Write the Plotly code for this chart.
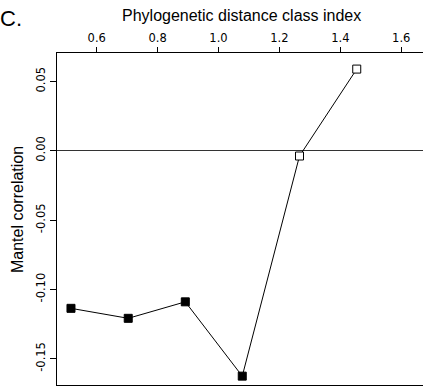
import plotly.graph_objects as go

x_vals = [0.5155, 0.7035, 0.891, 1.078, 1.266, 1.454]
mantel_r = [-0.1137, -0.1209, -0.1090, -0.1626, -0.0038, 0.0589]
significant = [True, True, True, True, False, False]

x_ticks = [0.6, 0.8, 1.0, 1.2, 1.4, 1.6]
x_ticktext = ["0.6", "0.8", "1.0", "1.2", "1.4", "1.6"]
y_ticks = [-0.15, -0.10, -0.05, 0.0, 0.05]
y_ticktext = ["-0.15", "-0.10", "-0.05", "0.00", "0.05"]

W, H = 423, 386
ml, mt, mb, mr = 57, 53, 1, 0

fig = go.Figure()
fig.add_trace(go.Scatter(
    x=x_vals, y=mantel_r, mode="lines+markers",
    line=dict(color="black", width=1),
    marker=dict(symbol="square", size=8,
                color=["black" if s else "white" for s in significant],
                line=dict(color="black", width=1)),
    showlegend=False, cliponaxis=False,
))

fig.update_layout(
    width=W, height=H,
    margin=dict(l=ml, r=mr, t=mt, b=mb),
    plot_bgcolor="white", paper_bgcolor="white",
    font=dict(family="DejaVu Sans", size=11, color="black"),
    xaxis=dict(side="top", range=[0.4696, 1.6716], tickvals=x_ticks, ticktext=x_ticktext,
               showgrid=False, zeroline=False, showline=True, mirror=True,
               linecolor="black", linewidth=1, ticks="outside", ticklen=5,
               tickcolor="black", tickfont=dict(family="DejaVu Sans", size=11.5)),
    yaxis=dict(range=[-0.169, 0.0705], tickvals=y_ticks, ticktext=y_ticktext,
               showgrid=False, zeroline=True, zerolinecolor="#333333", zerolinewidth=1,
               showline=True, linecolor="black", linewidth=1, ticks="outside", ticklen=6,
               tickcolor="black", tickangle=-90, tickfont=dict(family="DejaVu Sans", size=11.5)),
)

pw = W - ml - mr
ph = H - mt - mb


def py(ypix):
    return (H - mb - ypix) / ph


fig.add_annotation(text="Phylogenetic distance class index", xref="paper", yref="paper",
                   x=(241 - ml) / pw, y=py(16),
                   xanchor="center", yanchor="middle", showarrow=False,
                   font=dict(family="Liberation Sans", size=16))
fig.add_annotation(text="Mantel correlation", xref="paper", yref="paper",
                   x=(17 - ml) / pw, y=py(210), textangle=-90,
                   xanchor="center", yanchor="middle", showarrow=False,
                   font=dict(family="Liberation Sans", size=16))
fig.add_annotation(text="C.", xref="paper", yref="paper",
                   x=(-2 - ml) / pw, y=py(18),
                   xanchor="left", yanchor="middle", showarrow=False,
                   font=dict(family="Liberation Sans", size=22))

fig.write_html("out.html")
